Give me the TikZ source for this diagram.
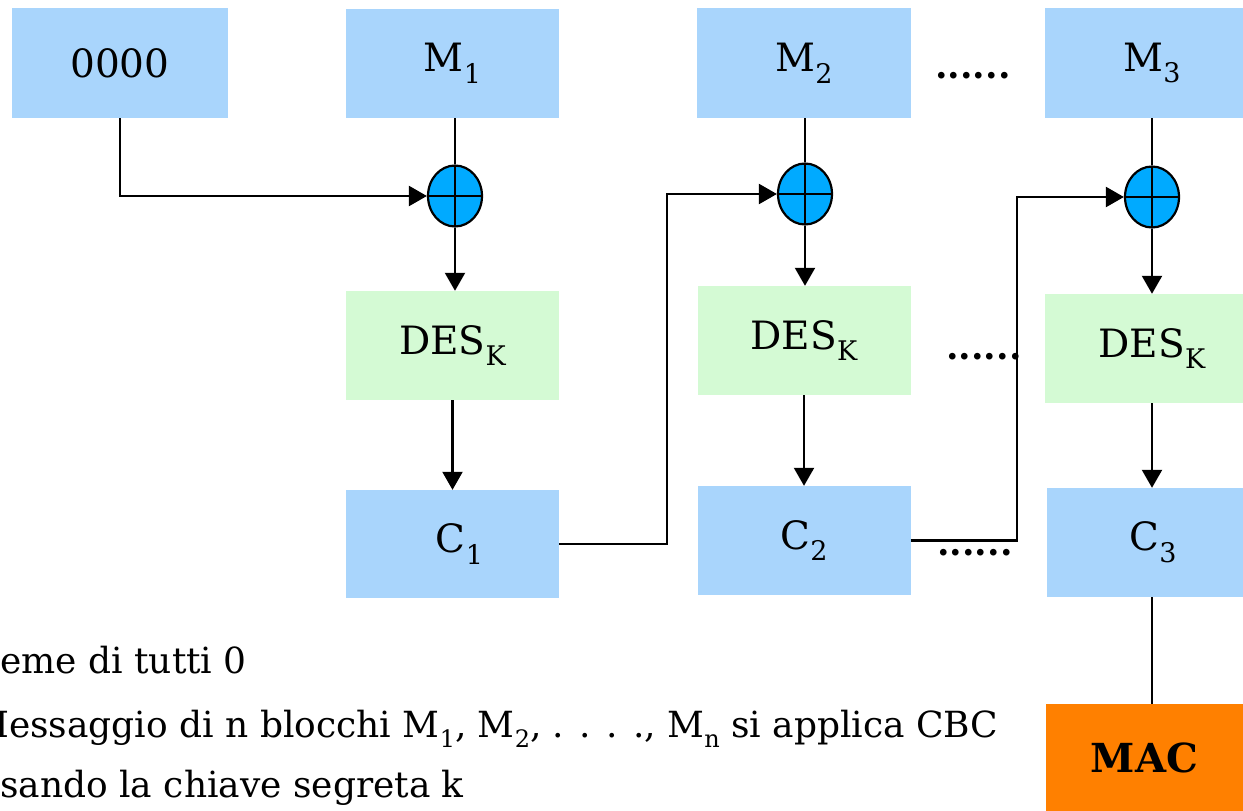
\documentclass[tikz,border=0pt]{standalone}
\usepackage{fontspec}
\setmainfont{DejaVu Serif}
\usetikzlibrary{shapes.geometric,arrows.meta}
\definecolor{boxblue}{RGB}{169,213,252}
\definecolor{boxgreen}{RGB}{212,250,212}
\definecolor{xorblue}{RGB}{0,170,255}
\definecolor{macorange}{RGB}{255,128,0}
\newcommand{\lowsub}[1]{\raisebox{-0.3em}{\fontsize{27}{29}\selectfont #1}}
\newcommand{\notesub}[1]{\raisebox{-0.3em}{\fontsize{24}{26}\selectfont #1}}
\tikzset{
  blk/.style={rectangle, minimum width=213pt, minimum height=109pt, inner sep=0pt, font=\fontsize{39}{44}\selectfont},
  bluebox/.style={blk, fill=boxblue},
  greenbox/.style={blk, fill=boxgreen},
  xorop/.style={ellipse, draw=black, line width=2.2pt, fill=xorblue, minimum width=54pt, minimum height=61pt, inner sep=0pt,
    path picture={\draw[line width=2.2pt] (path picture bounding box.north) -- (path picture bounding box.south)
      (path picture bounding box.west) -- (path picture bounding box.east);}},
  conn/.style={line width=2.2pt},
  arr/.style={conn, -{Triangle[length=18pt,width=20pt]}},
  dots/.style={inner sep=0pt, font=\fontsize{36}{40}\selectfont\bfseries},
  note/.style={inner sep=0pt, anchor=base west, font=\fontsize{36}{40}\selectfont}
}
\begin{document}
\begin{tikzpicture}[x=1pt,y=-1pt]
\clip (0,0) rectangle (1243,811);
\fill[white] (0,0) rectangle (1243,811);
% top row
\node[bluebox, minimum width=216pt, minimum height=110pt] (z) at (120,63) {0000};
\node[bluebox] (m1) at (452.5,63.5) {M\lowsub{1}};
\node[bluebox, minimum width=214pt, minimum height=110pt] (m2) at (804,63) {M\lowsub{2}};
\node[bluebox, minimum width=214pt, minimum height=110pt] (m3) at (1152,63) {M\lowsub{3}};
\node[dots] (t1) at (973,76) {......};
% xor
\node[xorop] (x1) at (455,196) {};
\node[xorop] (x2) at (805,194) {};
\node[xorop] (x3) at (1152,197) {};
% DES
\node[greenbox] (d1) at (452.5,345.5) {DES\lowsub{K}};
\node[greenbox] (d2) at (804,340.5) {DES\lowsub{K}};
\node[greenbox, minimum width=214pt] (d3) at (1152,348.5) {DES\lowsub{K}};
\node[dots] (t2) at (984,357) {......};
% C
\node[bluebox, minimum height=108pt] (c1) at (452.5,544) {\hspace*{14pt}C\lowsub{1}};
\node[bluebox] (c2) at (804,540.5) {C\lowsub{2}};
\node[bluebox, minimum width=212pt] (c3) at (1153,542.5) {C\lowsub{3}};
\node[dots] (t3) at (975,553) {......};
% MAC
\node[rectangle, fill=macorange, minimum width=197pt, minimum height=108pt, inner sep=0pt,
  font=\fontsize{40}{44}\selectfont\bfseries] (mac) at (1144.5,758) {MAC};
% connectors
\coordinate (k1) at (667,0);
\coordinate (k2) at (1017,0);
\draw[arr] (z.south) |- (x1.west);
\draw[conn] (x1.north |- m1.south) -- (x1.north);
\draw[conn] (x2.north |- m2.south) -- (x2.north);
\draw[conn] (x3.north |- m3.south) -- (x3.north);
\draw[arr] (x1.south) -- (x1.south |- d1.north);
\draw[arr] (x2.south) -- (x2.south |- d2.north);
\draw[arr] (x3.south) -- (x3.south |- d3.north);
\draw[arr] (d1.south) -- (c1.north);
\draw[arr] (d2.south) -- (c2.north);
\draw[arr] (x3.south |- d3.south) -- (x3.south |- c3.north);
\draw[arr] (c1.east) -| (k1 |- x2.west) -- (x2.west);
\draw[arr] (c2.east) -| (k2 |- x3.west) -- (x3.west);
\draw[conn] (x3.south |- c3.south) -- (x3.south |- mac.north);
% notes
\node[note] (n1) at (0,673) {eme di tutti 0};
\node[note] (n2) at (9,737) {\llap{M}essaggio di n blocchi M\notesub{1}, M\notesub{2}, . . . ., M\notesub{n} si applica CBC};
\node[note] (n3) at (0,797) {sando la chiave segreta k};
\end{tikzpicture}
\end{document}
